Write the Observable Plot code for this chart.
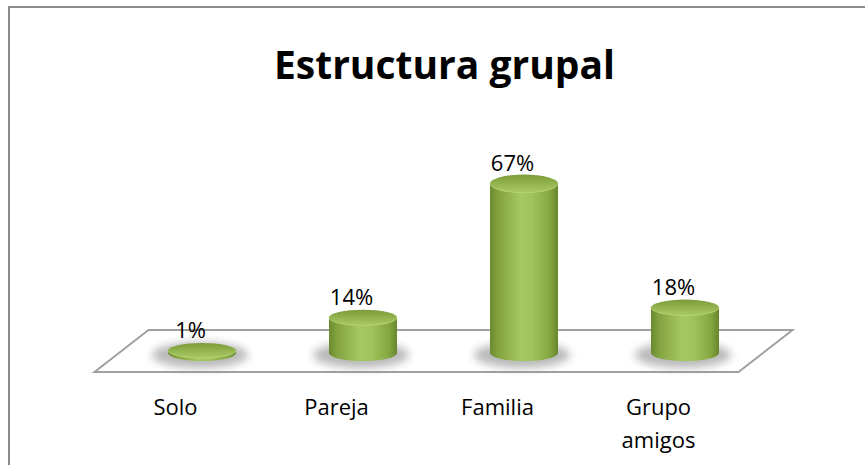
<!DOCTYPE html>
<html><head><meta charset="utf-8">
<script src="https://cdn.jsdelivr.net/npm/d3@7"></script>
<script src="https://cdn.jsdelivr.net/npm/@observablehq/plot@0.6"></script>
<style>
body{margin:0;background:#fff;}
#wrap{position:relative;width:865px;height:465px;overflow:hidden;background:#fff;font-family:"Open Sans",sans-serif;}
#frame{position:absolute;left:8px;top:6px;width:870px;height:470px;border-top:2px solid #8c8c8c;border-left:2px solid #8c8c8c;}
#title{position:absolute;left:12px;top:40px;width:865px;text-align:center;font-weight:700;font-size:39px;line-height:48px;color:#000;}
#chart{position:absolute;left:0;top:110px;}
</style></head><body>
<div id="wrap"><div id="frame"></div><div id="title">Estructura grupal</div><div id="chart"></div></div>
<script>
const categories = ["Solo", "Pareja", "Familia", "Grupo amigos"];
const values = [1, 14, 67, 18];
const valueLabels = ["1%", "14%", "67%", "18%"];
const tickLabels = ["Solo", "Pareja", "Familia", "Grupo\namigos"];

const data = categories.map((c, i) => ({category: c, value: values[i], label: valueLabels[i]}));

function floorMark(index, scales) {
  const x = scales.x, y = scales.y;
  const bw = x.bandwidth();
  const c0 = x(categories[0]) + bw / 2;
  const c1 = x(categories[categories.length - 1]) + bw / 2;
  const step = (c1 - c0) / (categories.length - 1);
  const left = c0 - step / 2, right = c1 + step / 2;
  const yc = y(0) - 2, dz = 21, dxp = 27;
  const pts = [[left - dxp, yc + dz], [left + dxp, yc - dz], [right + dxp, yc - dz], [right - dxp, yc + dz]];
  const g = d3.create("svg:g");
  g.append("path")
    .attr("d", "M" + pts.map(p => p.join(",")).join("L") + "Z")
    .attr("fill", "#fff").attr("stroke", "#a0a0a0").attr("stroke-width", 2);
  return g.node();
}

function cylinderMark(index, scales) {
  const x = scales.x, y = scales.y;
  const bw = x.bandwidth(), rx = bw / 2, yb = y(0);
  const g = d3.create("svg:g");
  const defs = g.append("defs");
  const body = defs.append("linearGradient").attr("id", "cylBody")
    .attr("x1", "0").attr("x2", "1").attr("y1", "0").attr("y2", "0");
  [[0, "#6b8a2e"], [0.12, "#82a33f"], [0.45, "#a6c862"], [0.62, "#a1c35c"], [0.88, "#85a741"], [1, "#68852c"]]
    .forEach(([o, c]) => body.append("stop").attr("offset", o).attr("stop-color", c));
  const top = defs.append("linearGradient").attr("id", "cylTop")
    .attr("x1", "0").attr("x2", "0").attr("y1", "0").attr("y2", "1");
  [[0, "#7b9a39"], [0.55, "#95b650"], [1, "#a9c965"]]
    .forEach(([o, c]) => top.append("stop").attr("offset", o).attr("stop-color", c));
  const f = defs.append("filter").attr("id", "cylShadow")
    .attr("x", "-50%").attr("y", "-100%").attr("width", "200%").attr("height", "300%");
  f.append("feGaussianBlur").attr("stdDeviation", 4);

  data.forEach(d => {
    const cx = x(d.category) + rx, yt = y(d.value);
    const h = yb - yt;
    const ryb = 8, ryt = 7.5 + h / 161 * 1.5;
    g.append("ellipse").attr("cx", cx - 2).attr("cy", yb + 2).attr("rx", rx + 14).attr("ry", ryb + 5)
      .attr("fill", "#808080").attr("opacity", 0.55).attr("filter", "url(#cylShadow)");
    g.append("path")
      .attr("d", `M${cx - rx},${yt}L${cx - rx},${yb}A${rx},${ryb} 0 0 0 ${cx + rx},${yb}L${cx + rx},${yt}Z`)
      .attr("fill", "url(#cylBody)");
    g.append("ellipse").attr("cx", cx).attr("cy", yt).attr("rx", rx).attr("ry", ryt).attr("fill", "url(#cylTop)");
    g.append("path")
      .attr("d", `M${cx - rx},${yt}A${rx},${ryt} 0 0 0 ${cx + rx},${yt}`)
      .attr("fill", "none").attr("stroke", "#b9d87a").attr("stroke-width", 1).attr("opacity", 0.8);
  });
  return g.node();
}

const chart = Plot.plot({
  width: 865, height: 355,
  marginLeft: 74, marginRight: 53, marginTop: 66, marginBottom: 112,
  x: {type: "band", domain: categories, padding: 0.578},
  y: {domain: [0, 70], axis: null},
  style: {fontFamily: "'Open Sans', sans-serif", background: "transparent", overflow: "visible", color: "#000"},
  marks: [
    floorMark,
    cylinderMark,
    Plot.text(data, {x: "category", y: "value", text: "label", dx: -12, dy: -13, lineAnchor: "bottom", fontSize: 22, fill: "#000"}),
    Plot.axisX({tickSize: 0, tickPadding: 38, dx: -27, fontSize: 22, lineHeight: 1.5,
      tickFormat: d => tickLabels[categories.indexOf(d)], label: null})
  ]
});
document.getElementById("chart").appendChild(chart);
</script>
</body></html>
